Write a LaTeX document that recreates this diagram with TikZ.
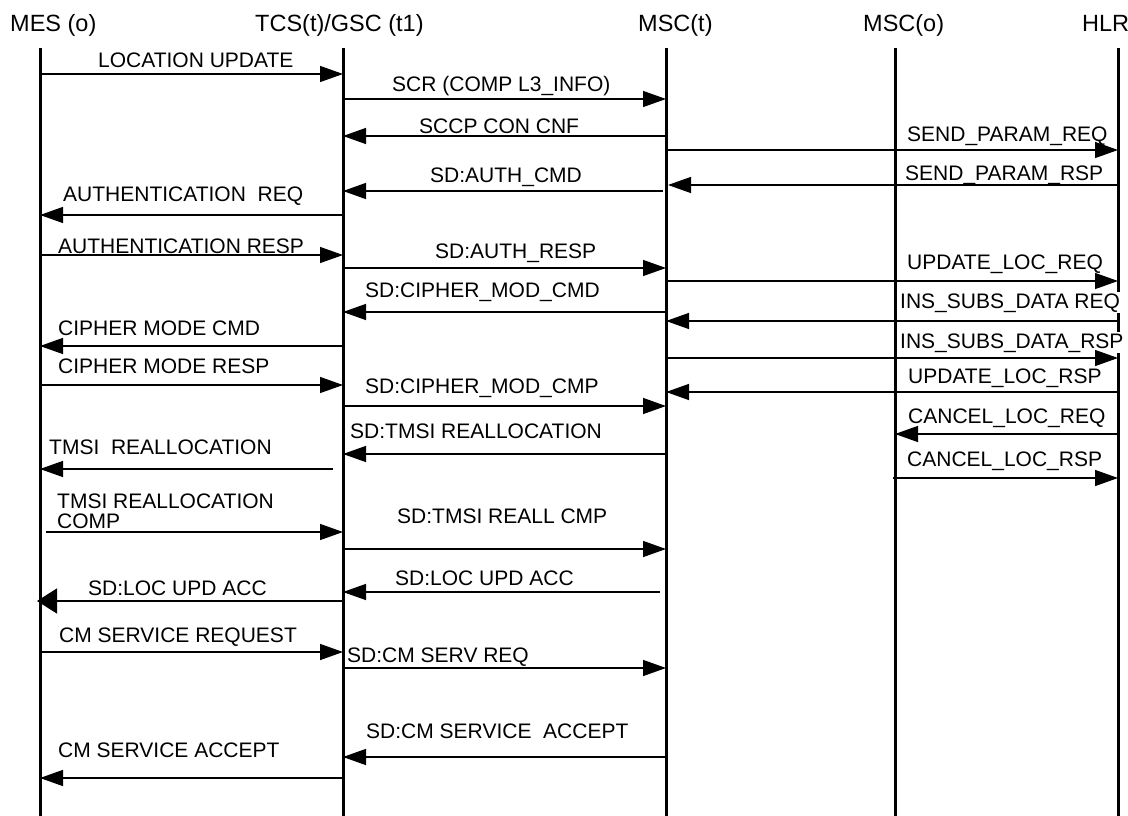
\documentclass[tikz,border=0pt]{standalone}
\usepackage{fontspec}
\setmainfont{Liberation Sans}
\usetikzlibrary{arrows.meta}
\begin{document}
\begin{tikzpicture}[x=1pt,y=-1pt,
  life/.style={line width=3pt},
  msg/.style={line width=1.4pt,-{Triangle[length=23pt,width=16pt]}},
  bigmsg/.style={line width=1.4pt,-{Triangle[length=20pt,width=25pt]}},
  head/.style={font=\fontsize{23.5}{26}\selectfont,inner sep=0pt,anchor=base west},
  lbl/.style={font=\fontsize{21}{24}\selectfont,inner sep=0pt,anchor=base west},
  wlbl/.style={lbl,fill=white,inner sep=1pt}]
\useasboundingbox[fill=white] (0,0) rectangle (1128,816);

% headers
\node[head] (hMES) at (10,32) {MES (o)};
\node[head] (hTCS) at (255,32) {TCS(t)/GSC (t1)};
\node[head] (hMSCt) at (638,32) {MSC(t)};
\node[head] (hMSCo) at (863,32) {MSC(o)};
\node[head] (hHLR) at (1082,32) {HLR};

% lifeline tops
\coordinate (MES) at (40,48);
\coordinate (TCS) at (343,48);
\coordinate (MSCt) at (666,48);
\coordinate (MSCo) at (895,48);
\coordinate (HLR) at (1118,48);

\foreach \l in {MES,TCS,MSCt,MSCo,HLR}
  \draw[life] (\l) -- (\l |- 0,816);

% messages
\draw[msg] (MES |- 0,74) -- (TCS |- 0,74);
\node[lbl] (l1) at (98,67) {LOCATION UPDATE};

\draw[msg] (TCS |- 0,99) -- (MSCt |- 0,99);
\node[lbl] (l2) at (392,92) {SCR (COMP L3\_INFO)};

\draw[msg] (MSCt |- 0,136) -- (TCS |- 0,136);
\node[lbl] (l3) at (419,133) {SCCP CON CNF};

\draw[msg] (MSCt |- 0,150) -- (HLR |- 0,150);
\node[lbl] (l4) at (907,142) {SEND\_PARAM\_REQ};

\draw[msg] (HLR |- 0,185) -- ([xshift=2pt]MSCt |- 0,185);
\node[lbl] (l5) at (905,180) {SEND\_PARAM\_RSP};

\draw[msg] ([xshift=-3pt]MSCt |- 0,191) -- (TCS |- 0,191);
\node[lbl] (l6) at (430,182) {SD:AUTH\_CMD};

\draw[msg] (TCS |- 0,215) -- (MES |- 0,215);
\node[lbl] (l7) at (63,201) {AUTHENTICATION\ \ REQ};

\draw[msg] (MES |- 0,255) -- (TCS |- 0,255);
\node[lbl] (l8) at (58,253) {AUTHENTICATION RESP};

\draw[msg] (TCS |- 0,268) -- (MSCt |- 0,268);
\node[lbl] (l9) at (435,258) {SD:AUTH\_RESP};

\draw[msg] (MSCt |- 0,281) -- (HLR |- 0,281);
\node[lbl] (l10) at (907,269) {UPDATE\_LOC\_REQ};

\draw[msg] (MSCt |- 0,312) -- (TCS |- 0,312);
\node[lbl] (l11) at (365,297) {SD:CIPHER\_MOD\_CMD};

\draw[msg] (HLR |- 0,321) -- (MSCt |- 0,321);
\node[wlbl] (l12) at (899,308) {INS\_SUBS\_DATA REQ};

\draw[msg] (TCS |- 0,346) -- (MES |- 0,346);
\node[lbl] (l13) at (58,335) {CIPHER MODE CMD};

\node[wlbl] (l14) at (899,348) {INS\_SUBS\_DATA\_RSP};
\draw[msg] (MSCt |- 0,358) -- (HLR |- 0,358);

\draw[msg] (MES |- 0,385) -- (TCS |- 0,385);
\node[lbl] (l15) at (58,373) {CIPHER MODE RESP};

\draw[msg] (HLR |- 0,392) -- (MSCt |- 0,392);
\node[lbl] (l16) at (908,383) {UPDATE\_LOC\_RSP};

\draw[msg] (TCS |- 0,406) -- (MSCt |- 0,406);
\node[lbl] (l17) at (365,393) {SD:CIPHER\_MOD\_CMP};

\draw[msg] (HLR |- 0,434) -- (MSCo |- 0,434);
\node[lbl] (l18) at (908,423) {CANCEL\_LOC\_REQ};

\draw[msg] (MSCt |- 0,454) -- (TCS |- 0,454);
\node[lbl] (l19) at (350,438) {SD:TMSI REALLOCATION};

\draw[msg] ([xshift=-10pt]TCS |- 0,469) -- (MES |- 0,469);
\node[lbl] (l20) at (49,454) {TMSI\ \ REALLOCATION};

\draw[msg] ([xshift=-2pt]MSCo |- 0,478) -- (HLR |- 0,478);
\node[lbl] (l21) at (907,466) {CANCEL\_LOC\_RSP};

\draw[msg] ([xshift=6pt]MES |- 0,532) -- (TCS |- 0,532);
\node[lbl,font=\fontsize{21}{20}\selectfont,align=left,anchor=north west] (l22) at (57,494) {TMSI REALLOCATION\\COMP};

\draw[msg] (TCS |- 0,549) -- (MSCt |- 0,549);
\node[lbl] (l23) at (397,523) {SD:TMSI REALL CMP};

\draw[msg] ([xshift=-6pt]MSCt |- 0,592) -- (TCS |- 0,592);
\node[lbl] (l24) at (395,585) {SD:LOC UPD ACC};

\draw[bigmsg] ([xshift=2pt]TCS |- 0,601) -- ([xshift=-3pt]MES |- 0,601);
\node[lbl] (l25) at (88,595) {SD:LOC UPD ACC};

\draw[msg] (MES |- 0,652) -- (TCS |- 0,652);
\node[lbl] (l26) at (59,642) {CM SERVICE REQUEST};

\draw[msg] (TCS |- 0,668) -- (MSCt |- 0,668);
\node[lbl] (l27) at (347,662) {SD:CM SERV REQ};

\draw[msg] (MSCt |- 0,757) -- (TCS |- 0,757);
\node[lbl] (l28) at (366,738) {SD:CM SERVICE\ \ ACCEPT};

\draw[msg] (TCS |- 0,778) -- (MES |- 0,778);
\node[lbl] (l29) at (58,757) {CM SERVICE ACCEPT};
\end{tikzpicture}
\end{document}
